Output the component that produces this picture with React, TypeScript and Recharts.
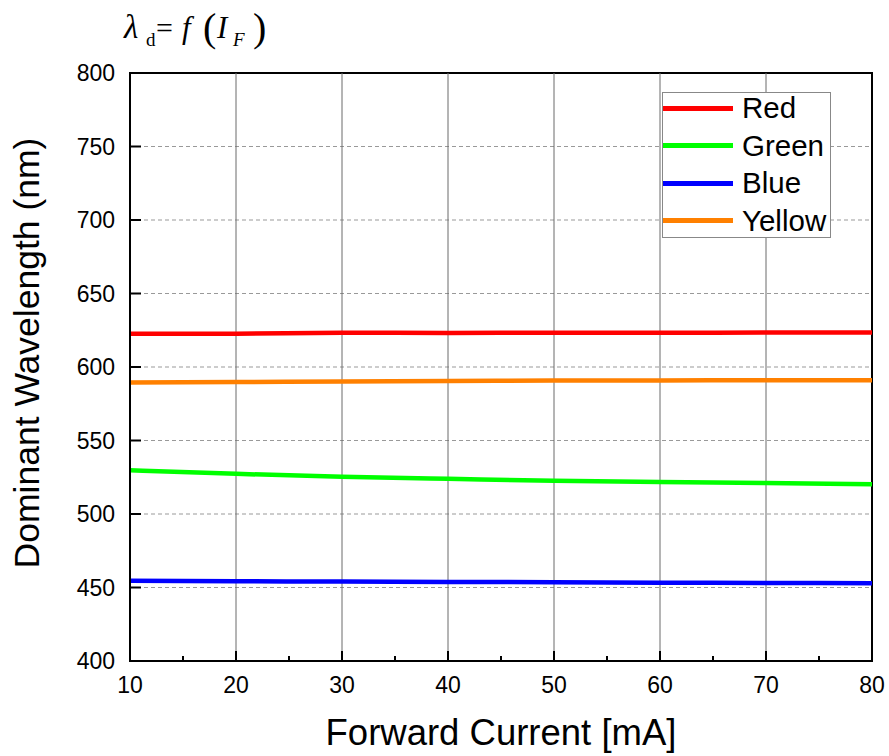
import { LineChart, Line, XAxis, YAxis, CartesianGrid, ReferenceLine, ReferenceArea } from 'recharts';

const currents = [10, 20, 30, 40, 50, 60, 70, 80];
const red = [622.6, 622.7, 623.3, 623.2, 623.3, 623.3, 623.4, 623.5];
const green = [529.8, 527.3, 525.3, 523.9, 522.6, 521.8, 521.1, 520.3];
const blue = [454.6, 454.3, 454.0, 453.8, 453.6, 453.3, 453.1, 452.9];
const yellow = [589.4, 589.8, 590.2, 590.5, 590.8, 590.9, 591.0, 591.0];

const xTicks = [10, 15, 20, 25, 30, 35, 40, 45, 50, 55, 60, 65, 70, 75, 80];
const yTicks = [400, 450, 500, 550, 600, 650, 700, 750, 800];
const xGrid = [20, 30, 40, 50, 60, 70];

const series = [
  { key: 'red', name: 'Red', color: '#ff0000' },
  { key: 'green', name: 'Green', color: '#00ff00' },
  { key: 'blue', name: 'Blue', color: '#0000ff' },
  { key: 'yellow', name: 'Yellow', color: '#ff8000' },
];

const chartData = currents.map((c, i) => ({
  current: c,
  red: red[i],
  green: green[i],
  blue: blue[i],
  yellow: yellow[i],
}));

const font = '"Liberation Sans", Arial, sans-serif';

const XTick = ({ x, y, payload }: any) => {
  const major = payload.value % 10 === 0;
  return (
    <g>
      <line x1={x} x2={x} y1={y} y2={y - (major ? 10 : 5)} stroke="#000" strokeWidth={2} />
      {major && (
        <text x={x} y={y + 32} textAnchor="middle" fontSize={23} fontFamily={font} fill="#000">
          {payload.value}
        </text>
      )}
    </g>
  );
};

const YTick = ({ x, y, payload }: any) => (
  <g>
    <line x1={x + 15} x2={x + 26} y1={y} y2={y} stroke="#000" strokeWidth={2} />
    <text x={x} y={y} dy="0.36em" textAnchor="end" fontSize={23} fontFamily={font} fill="#000">
      {payload.value}
    </text>
  </g>
);

const App = () => {
  return (
    <div style={{ position: 'relative', width: 889, height: 756, background: '#fff' }}>
      <style>{`body{margin:0}`}</style>
      <LineChart width={889} height={756} data={chartData} margin={{ top: 73, right: 17, left: 0, bottom: 0 }}>
        <CartesianGrid vertical={false} stroke="#999" strokeDasharray="4 3" />
        {xGrid.map((v) => (
          <ReferenceLine key={v} x={v} stroke="#6a6a6a" strokeWidth={1} />
        ))}
        <ReferenceArea x1={10} x2={80} y1={400} y2={800} fill="none" stroke="#000" strokeWidth={2} />
        <XAxis
          dataKey="current"
          type="number"
          domain={[10, 80]}
          ticks={xTicks}
          interval={0}
          height={95}
          tickSize={0}
          tickMargin={0}
          tickLine={false}
          axisLine={{ stroke: '#000', strokeWidth: 2 }}
          tick={<XTick />}
        />
        <YAxis
          type="number"
          domain={[400, 800]}
          ticks={yTicks}
          interval={0}
          width={130}
          tickSize={0}
          tickMargin={15}
          tickLine={false}
          axisLine={{ stroke: '#000', strokeWidth: 2 }}
          tick={<YTick />}
        />
        {series.map((s) => (
          <Line
            key={s.key}
            type="monotone"
            dataKey={s.key}
            name={s.name}
            stroke={s.color}
            strokeWidth={4.5}
            dot={false}
            isAnimationActive={false}
          />
        ))}
      </LineChart>

      <svg width={889} height={756} style={{ position: 'absolute', left: 0, top: 0, pointerEvents: 'none' }}>
        <text x={501} y={745} textAnchor="middle" fontSize={36.5} fontFamily={font} fill="#000">
          Forward Current [mA]
        </text>
        <text
          x={39}
          y={353}
          textAnchor="middle"
          fontSize={35.5}
          fontFamily={font}
          fill="#000"
          transform="rotate(-90, 39, 353)"
        >
          Dominant Wavelength (nm)
        </text>
        <g fontFamily='"Liberation Serif", "Times New Roman", serif' fill="#000">
          <text x={124} y={38} fontSize={33} fontStyle="italic">λ</text>
          <text x={146} y={46} fontSize={19}>d</text>
          <text x={156} y={38} fontSize={30}>=</text>
          <text x={182} y={38} fontSize={31} fontStyle="italic">f</text>
          <text x={203} y={41} fontSize={40}>(</text>
          <text x={217} y={38} fontSize={31} fontStyle="italic">I</text>
          <text x={233} y={46} fontSize={19} fontStyle="italic">F</text>
          <text x={253} y={41} fontSize={40}>)</text>
        </g>
      </svg>

      <div
        style={{
          position: 'absolute',
          left: 662,
          top: 92,
          width: 169,
          height: 146,
          border: '1px solid #888',
          background: '#fff',
          boxSizing: 'border-box',
          fontFamily: font,
        }}
      >
        {series.map((s, i) => (
          <div
            key={s.key}
            style={{
              position: 'absolute',
              left: 0,
              top: -1 + i * 37.5,
              height: 32,
              display: 'flex',
              alignItems: 'center',
            }}
          >
            <div style={{ width: 70, height: 5, background: s.color }} />
            <span style={{ marginLeft: 9, fontSize: 29.5, lineHeight: '32px', color: '#000' }}>{s.name}</span>
          </div>
        ))}
      </div>
    </div>
  );
};

export default App;
